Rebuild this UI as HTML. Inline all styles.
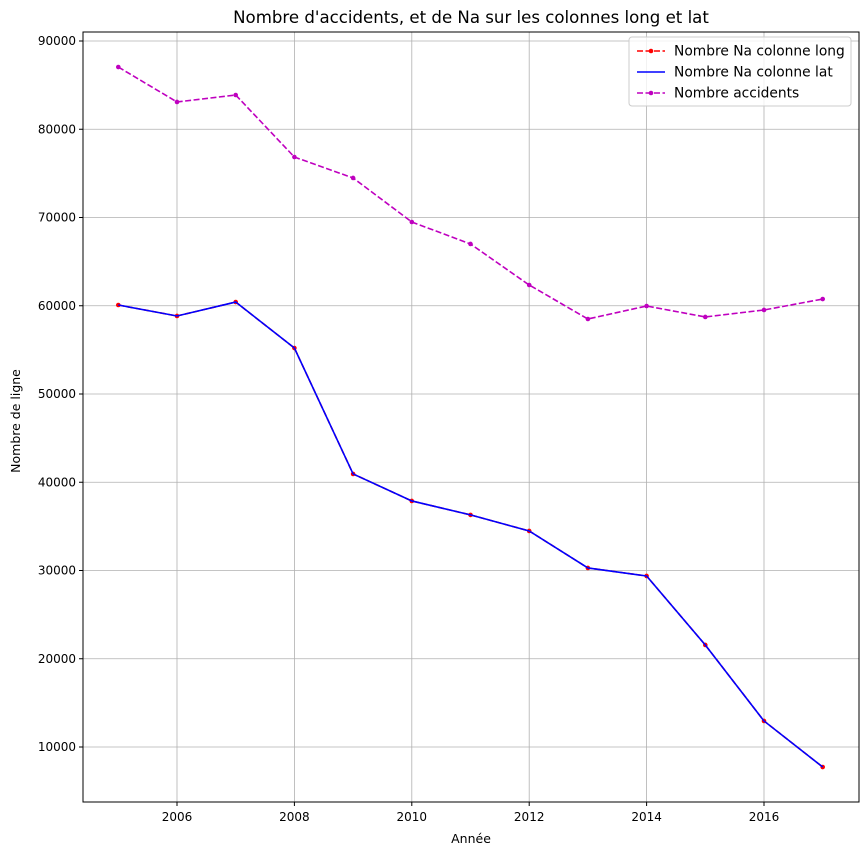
<!DOCTYPE html>
<html><head><meta charset="utf-8">
<style>
html,body{margin:0;padding:0;background:#fff;}
svg{display:block;font-family:"DejaVu Sans","Liberation Sans",sans-serif;}
</style></head>
<body>
<svg id="chart" width="868" height="855" viewBox="0 0 868 855" xmlns="http://www.w3.org/2000/svg"></svg>
<script>
const years = [2005,2006,2007,2008,2009,2010,2011,2012,2013,2014,2015,2016,2017];
const accidents = [87050,83090,83880,76850,74480,69490,67000,62350,58500,59970,58730,59520,60760];
const naLong = [60085,58840,60420,55210,40940,37880,36300,34480,30290,29380,21560,12950,7730];
const naLat = [60085,58840,60420,55210,40940,37880,36300,34480,30290,29380,21560,12950,7730];
const xTicks = [2006,2008,2010,2012,2014,2016];
const yTicks = [10000,20000,30000,40000,50000,60000,70000,80000,90000];

const L=83,R=859,T=32,B=802;
function xs(v){return 177+(v-2006)*58.7;}
function ys(v){return 41+(90000-v)/10000*88.25;}
const NS="http://www.w3.org/2000/svg";
const svg=document.getElementById('chart');
function mk(tag,attrs,parent){const e=document.createElementNS(NS,tag);for(const k in attrs)e.setAttribute(k,attrs[k]);(parent||svg).appendChild(e);return e;}

let t=mk('text',{x:471,y:23,'text-anchor':'middle','font-size':16.6,fill:'#000'});


t.textContent="Nombre d'accidents, et de Na sur les colonnes long et lat";

const grid=mk('g',{});


xTicks.forEach(v=>{mk('line',{x1:xs(v),x2:xs(v),y1:T,y2:B,stroke:'#b0b0b0','stroke-width':0.8},grid);});
yTicks.forEach(v=>{mk('line',{x1:L,x2:R,y1:ys(v),y2:ys(v),stroke:'#b0b0b0','stroke-width':0.8},grid);});

const xa=mk('g',{});


xTicks.forEach(v=>{
  mk('line',{x1:xs(v),x2:xs(v),y1:B,y2:B+4,stroke:'#000'},xa);
  const tx=mk('text',{x:xs(v),y:B+19,'text-anchor':'middle','font-size':12},xa);
  
  
  tx.textContent=v;
});
const ya=mk('g',{});


yTicks.forEach(v=>{
  mk('line',{x1:L-4,x2:L,y1:ys(v),y2:ys(v),stroke:'#000'},ya);
  const tx=mk('text',{x:L-7,y:ys(v)+4,'text-anchor':'end','font-size':12},ya);
  
  
  tx.textContent=v;
});
let xl=mk('text',{x:471,y:843,'text-anchor':'middle','font-size':12.5});


xl.textContent='Année';
let yl=mk('text',{x:20,y:421,'text-anchor':'middle','font-size':12.5,transform:'rotate(-90 20 421)'});


yl.textContent='Nombre de ligne';

function series(vals,color,dash,marker,name){
  const g=mk('g',{});
  
  
  const pts=vals.map((v,i)=>xs(years[i])+','+ys(v)).join(' ');
  const a={points:pts,fill:'none',stroke:color,'stroke-width':1.6};
  if(dash)a['stroke-dasharray']='6,2.5';
  mk('polyline',a,g);
  if(marker)vals.forEach((v,i)=>{const c=mk('circle',{cx:xs(years[i]),cy:ys(v),r:2.3,fill:color},g);
    
    });
}
series(naLong,'#ff0000',true,true,'series-na-long');
series(naLat,'#0000ff',false,false,'series-na-lat');
series(accidents,'#bf00bf',true,true,'series-accidents');

mk('rect',{x:L,y:T,width:R-L,height:B-T,fill:'none',stroke:'#000','stroke-width':1});

const lg=mk('g',{});


mk('rect',{x:629,y:37,width:222,height:69,rx:3,fill:'#fff',stroke:'#ccc','fill-opacity':0.8},lg);
const entries=[['Nombre Na colonne long','#ff0000',true,true],['Nombre Na colonne lat','#0000ff',false,false],['Nombre accidents','#bf00bf',true,true]];
entries.forEach((e,i)=>{
  const y=51+i*21;
  const g=mk('g',{},lg);
  
  
  const a={x1:637,x2:665,y1:y,y2:y,stroke:e[1],'stroke-width':1.6};
  if(e[2])a['stroke-dasharray']='6,2.5';
  mk('line',a,g);
  if(e[3])mk('circle',{cx:651,cy:y,r:2.3,fill:e[1]},g);
  const tx=mk('text',{x:674,y:y+4.5,'font-size':13.8},g);
  tx.textContent=e[0];
});
</script>
</body></html>
